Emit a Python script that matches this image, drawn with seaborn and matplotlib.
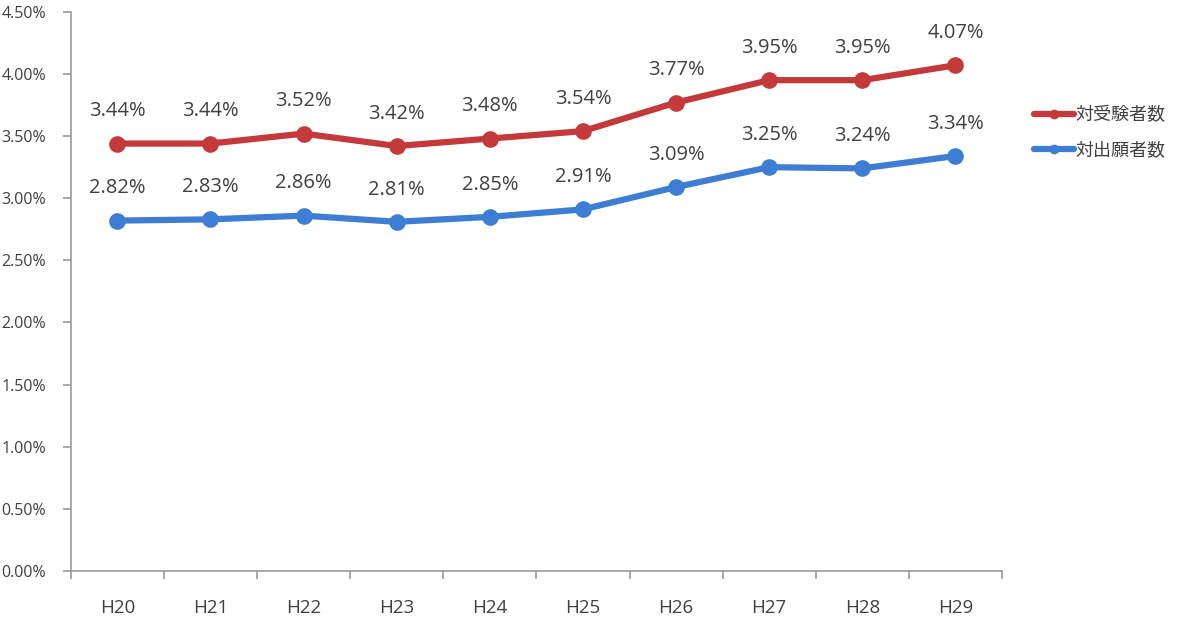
import numpy as np
import pandas as pd
import matplotlib
matplotlib.use("Agg")
import matplotlib.pyplot as plt
from matplotlib.ticker import FuncFormatter, FixedLocator
import seaborn as sns

years = ["H20", "H21", "H22", "H23", "H24", "H25", "H26", "H27", "H28", "H29"]
exam_takers = [3.44, 3.44, 3.52, 3.42, 3.48, 3.54, 3.77, 3.95, 3.95, 4.07]
applicants = [2.82, 2.83, 2.86, 2.81, 2.85, 2.91, 3.09, 3.25, 3.24, 3.34]
series_names = ["対受験者数", "対出願者数"]

sns.set_style("white")
plt.rcParams["font.family"] = ["Open Sans", "Noto Sans CJK JP", "DejaVu Sans"]

data = pd.DataFrame({
    "year": years * 2,
    "pos": list(range(len(years))) * 2,
    "rate": exam_takers + applicants,
    "series": [series_names[0]] * len(years) + [series_names[1]] * len(years),
})

colors = {series_names[0]: "#C43A3A", series_names[1]: "#3D7ED4"}
text_color = "#404040"

fig = plt.figure(figsize=(12, 6.23), dpi=100)
ax = fig.add_axes([0.059, 0.0835, 0.776, 0.8975])

sns.lineplot(data=data, x="pos", y="rate", hue="series", palette=colors,
             marker="o", markersize=12, markeredgewidth=0, linewidth=4.5,
             ax=ax, legend=False)

for name, vals in zip(series_names, [exam_takers, applicants]):
    for i, v in enumerate(vals):
        ax.annotate(f"{v:.2f}%", (i, v), xytext=(0, 16), textcoords="offset points",
                    ha="center", va="bottom", fontsize=14.5, color=text_color)

ax.set_xlim(-0.5, len(years) - 0.5)
ax.set_ylim(0, 4.5)
ax.set_yticks(np.arange(0, 4.51, 0.5))
ax.yaxis.set_major_formatter(FuncFormatter(lambda v, p: f"{v:.2f}%"))
ax.set_xticks(range(len(years)))
ax.set_xticklabels(years)
ax.xaxis.set_minor_locator(FixedLocator(np.arange(-0.5, len(years), 1.0)))
ax.tick_params(axis="x", which="major", bottom=True, length=0, pad=20,
               labelsize=13.5, colors=text_color)
ax.tick_params(axis="x", which="minor", bottom=True, length=6, direction="out",
               color="#999999", width=1.2)
ax.tick_params(axis="y", left=True, length=6, direction="out", color="#999999",
               width=1.2, labelsize=11.5, labelcolor=text_color, pad=12)
ax.set_xlabel("")
ax.set_ylabel("")

for s in ["top", "right"]:
    ax.spines[s].set_visible(False)
for s in ["left", "bottom"]:
    ax.spines[s].set_color("#999999")
    ax.spines[s].set_linewidth(1.2)

handles = [plt.Line2D([], [], color=colors[n], linewidth=4.5, marker="o",
                      markersize=7, markeredgewidth=0) for n in series_names]
fig.legend(handles, series_names, loc="upper left", bbox_to_anchor=(0.848, 0.855),
           frameon=False, fontsize=13, handlelength=2.2, handletextpad=0.1,
           labelspacing=0.9, labelcolor=text_color)

fig.savefig("out.png", dpi=100)
